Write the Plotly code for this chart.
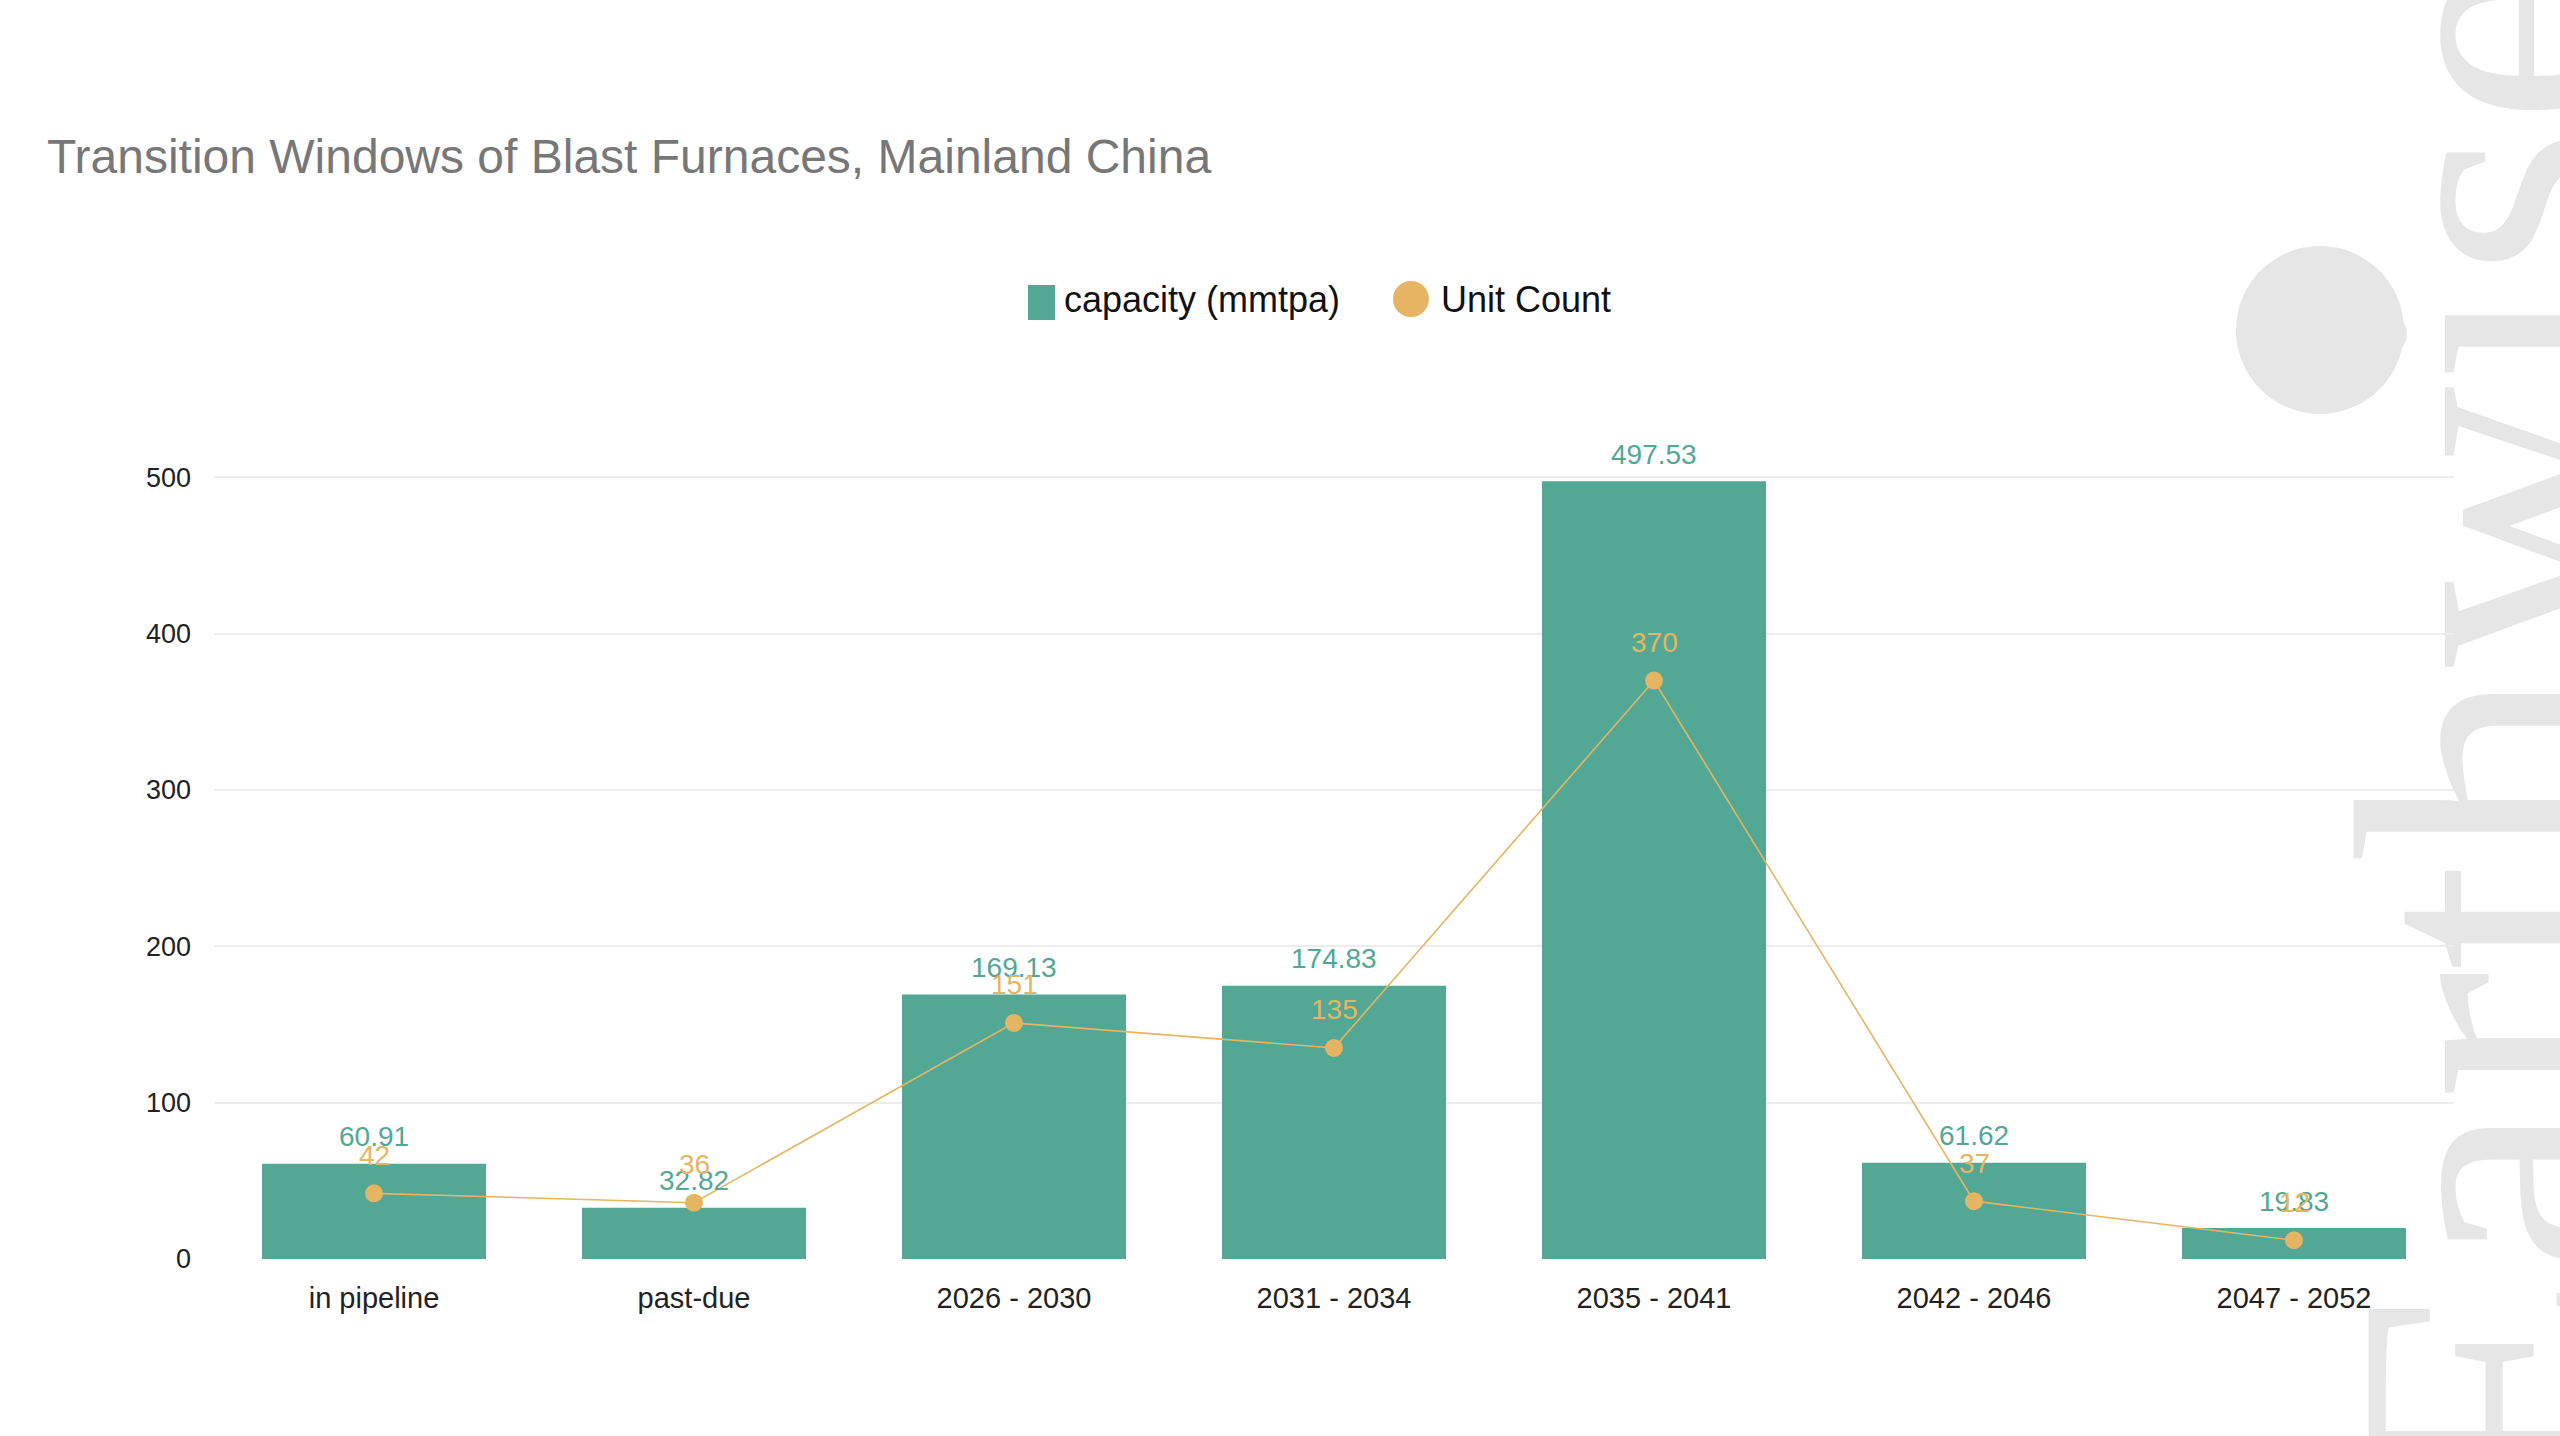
import plotly.graph_objects as go

# ---------------- data ----------------
categories = ["in pipeline", "past-due", "2026 - 2030", "2031 - 2034",
              "2035 - 2041", "2042 - 2046", "2047 - 2052"]
capacity = [60.91, 32.82, 169.13, 174.83, 497.53, 61.62, 19.83]
unit_count = [42, 36, 151, 135, 370, 37, 12]
y_ticks = [0, 100, 200, 300, 400, 500]
series_names = ["capacity (mmtpa)", "Unit Count"]
title_text = "Transition Windows of Blast Furnaces, Mainland China"
watermark_text = "Earthwise"

# ---------------- layout helpers ----------------
W, H = 2560, 1436
ML, MR, MT, MB = 214, 106, 446, 177
PW = W - ML - MR
PH = H - MT - MB


def px(x):
    return (x - ML) / PW


def py(y):
    return (H - MB - y) / PH


GREEN = "#52a894"
ORANGE = "#e5b563"
WM = "#e6e6e6"
FONT = "Liberation Sans, Arial, Helvetica, sans-serif"

fig = go.Figure()
fig.add_trace(go.Bar(
    x=categories, y=capacity, name=series_names[0],
    marker=dict(color=GREEN, line=dict(width=0)),
    showlegend=False,
))
fig.add_trace(go.Scatter(
    x=categories, y=unit_count, name=series_names[1],
    mode="lines+markers",
    line=dict(color=ORANGE, width=1.6),
    marker=dict(size=18, color=ORANGE),
    showlegend=False,
))

# value labels
for c, v in zip(categories, capacity):
    fig.add_annotation(x=c, y=v, xref="x", yref="y", text=f"{v:.2f}",
                       showarrow=False, yshift=27, yanchor="middle",
                       font=dict(size=28, color=GREEN, family=FONT))
for c, v in zip(categories, unit_count):
    fig.add_annotation(x=c, y=v, xref="x", yref="y", text=str(v),
                       showarrow=False, yshift=38, yanchor="middle",
                       font=dict(size=28, color=ORANGE, family=FONT))

# custom legend
fig.add_shape(type="rect", xref="paper", yref="paper",
              x0=px(1028), x1=px(1055), y0=py(320), y1=py(285),
              fillcolor=GREEN, line=dict(width=0))
fig.add_shape(type="circle", xref="paper", yref="paper",
              x0=px(1393), x1=px(1429), y0=py(317), y1=py(281),
              fillcolor=ORANGE, line=dict(width=0))
fig.add_annotation(xref="paper", yref="paper", x=px(1062), y=py(299),
                   xanchor="left", yanchor="middle", showarrow=False,
                   text=series_names[0], font=dict(size=36, color="#111111", family=FONT))
fig.add_annotation(xref="paper", yref="paper", x=px(1439), y=py(299),
                   xanchor="left", yanchor="middle", showarrow=False,
                   text=series_names[1], font=dict(size=36, color="#111111", family=FONT))

# watermark (drawn below axis labels via a shape label)
fig.add_shape(type="circle", xref="paper", yref="paper",
              x0=px(2236), x1=px(2404), y0=py(414), y1=py(246),
              fillcolor=WM, line=dict(width=0), layer="below")
WX, WY = 2450, 732
fig.add_shape(type="rect", xref="paper", yref="paper",
              x0=px(WX - 150), x1=px(WX + 150),
              y0=py(WY + 800), y1=py(WY - 800),
              fillcolor="rgba(0,0,0,0)", line=dict(width=0), layer="below",
              label=dict(text=watermark_text, textangle=-90,
                         textposition="middle center",
                         font=dict(size=390, color=WM,
                                   family="Liberation Serif, Times New Roman, serif")))

fig.update_layout(
    width=W, height=H,
    margin=dict(l=ML, r=MR, t=MT, b=MB, pad=0),
    paper_bgcolor="white", plot_bgcolor="white",
    font=dict(family=FONT, color="#222222"),
    bargap=0.3,
    title=dict(text=title_text, x=47 / W, xanchor="left",
               y=1 - 156 / H, yanchor="middle", xref="container", yref="container",
               font=dict(size=48, color="#777777", family=FONT)),
    xaxis=dict(showgrid=False, zeroline=False, showline=False,
               tickfont=dict(size=29, color="#222222"), ticks="",
               ticklabelstandoff=19),
    yaxis=dict(range=[0, 520], tickvals=y_ticks, showgrid=True,
               gridcolor="#ececec", gridwidth=2, zeroline=False, showline=False,
               tickfont=dict(size=27, color="#222222"), ticks="",
               ticklabelstandoff=22),
)

fig.write_html("out.html")
